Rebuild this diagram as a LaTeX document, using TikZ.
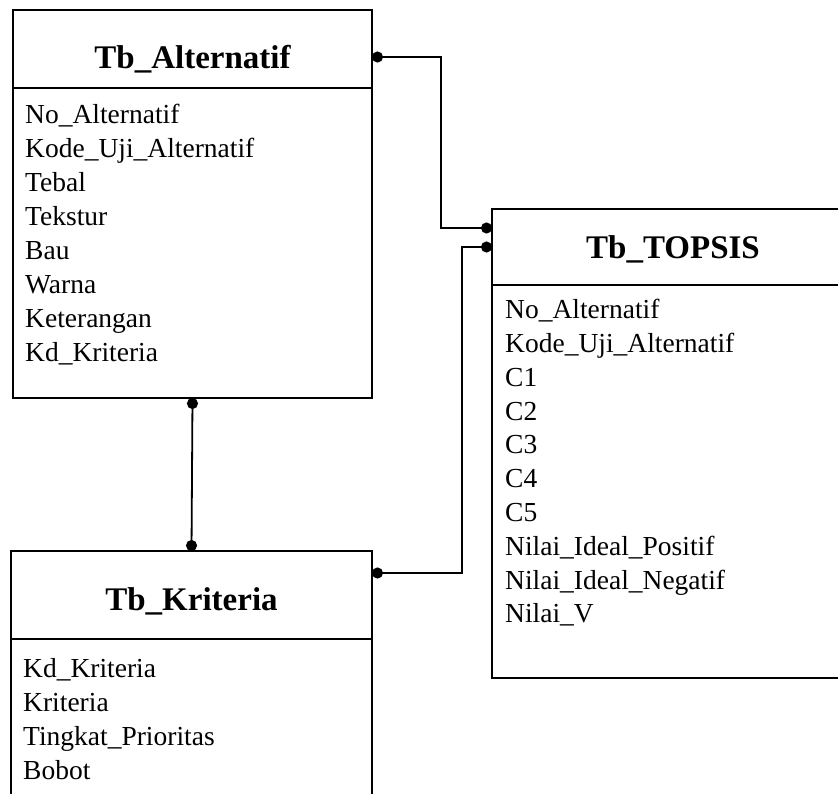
\documentclass[tikz,border=0pt]{standalone}
\usepackage{fontspec}
\setmainfont{Liberation Serif}
\usetikzlibrary{arrows.meta,calc}
\tikzset{
  tabbox/.style={draw, line width=2.2pt, inner sep=0pt, outer sep=0pt, anchor=north west},
  tabname/.style={anchor=base, inner sep=0pt, font=\fontsize{33}{40}\selectfont\bfseries},
  field/.style={anchor=base west, inner sep=0pt, font=\fontsize{27.5}{34}\selectfont},
  link/.style={line width=1.8pt, {Circle[length=11pt]}-{Circle[length=11pt]}}
}
\begin{document}
\begin{tikzpicture}[x=1pt,y=-1pt]
\useasboundingbox (0,0) rectangle (838,793);
% Tb_Alternatif
\node[tabbox, minimum width=359pt, minimum height=78pt] (altH) at (13,10){};
\node[tabbox, minimum width=359pt, minimum height=310pt] (altB) at (altH.south west){};
\node[tabname] (altT) at (192.5,68){Tb\_Alternatif};
\node[field] (alt1) at (25,123){No\_Alternatif};
\node[field] (alt2) at (25,157){Kode\_Uji\_Alternatif};
\node[field] (alt3) at (25,191){Tebal};
\node[field] (alt4) at (25,225){Tekstur};
\node[field] (alt5) at (25,259){Bau};
\node[field] (alt6) at (25,293){Warna};
\node[field] (alt7) at (25,327){Keterangan};
\node[field] (alt8) at (25,361){Kd\_Kriteria};
% Tb_Kriteria
\node[tabbox, minimum width=361pt, minimum height=88pt] (kriH) at (11,551){};
\node[tabbox, minimum width=361pt, minimum height=170pt] (kriB) at (kriH.south west){};
\node[tabname] (kriT) at (191.5,610){Tb\_Kriteria};
\node[field] (kri1) at (23,677){Kd\_Kriteria};
\node[field] (kri2) at (23,711){Kriteria};
\node[field] (kri3) at (23,745){Tingkat\_Prioritas};
\node[field] (kri4) at (23,779){Bobot};
% Tb_TOPSIS
\node[tabbox, minimum width=362pt, minimum height=76pt] (topH) at (492,209){};
\node[tabbox, minimum width=362pt, minimum height=393pt] (topB) at (topH.south west){};
\node[tabname] (topT) at (673,258){Tb\_TOPSIS};
\node[field] (top1) at (505,318){No\_Alternatif};
\node[field] (top2) at (505,352){Kode\_Uji\_Alternatif};
\node[field] (top3) at (505,386){C1};
\node[field] (top4) at (505,420){C2};
\node[field] (top5) at (505,453){C3};
\node[field] (top6) at (505,487){C4};
\node[field] (top7) at (505,521){C5};
\node[field] (top8) at (505,555){Nilai\_Ideal\_Positif};
\node[field] (top9) at (505,589){Nilai\_Ideal\_Negatif};
\node[field] (top10) at (505,622){Nilai\_V};
% relasi
\draw[link] (altB.south) -- (kriH.north);
\draw[link] ($(altH.east)+(0,8)$) -| (441,228) |- ($(topH.west)+(0,-19)$);
\draw[link] ($(kriH.east)+(0,-22)$) -| (462,247) |- (topH.west);
\end{tikzpicture}
\end{document}
